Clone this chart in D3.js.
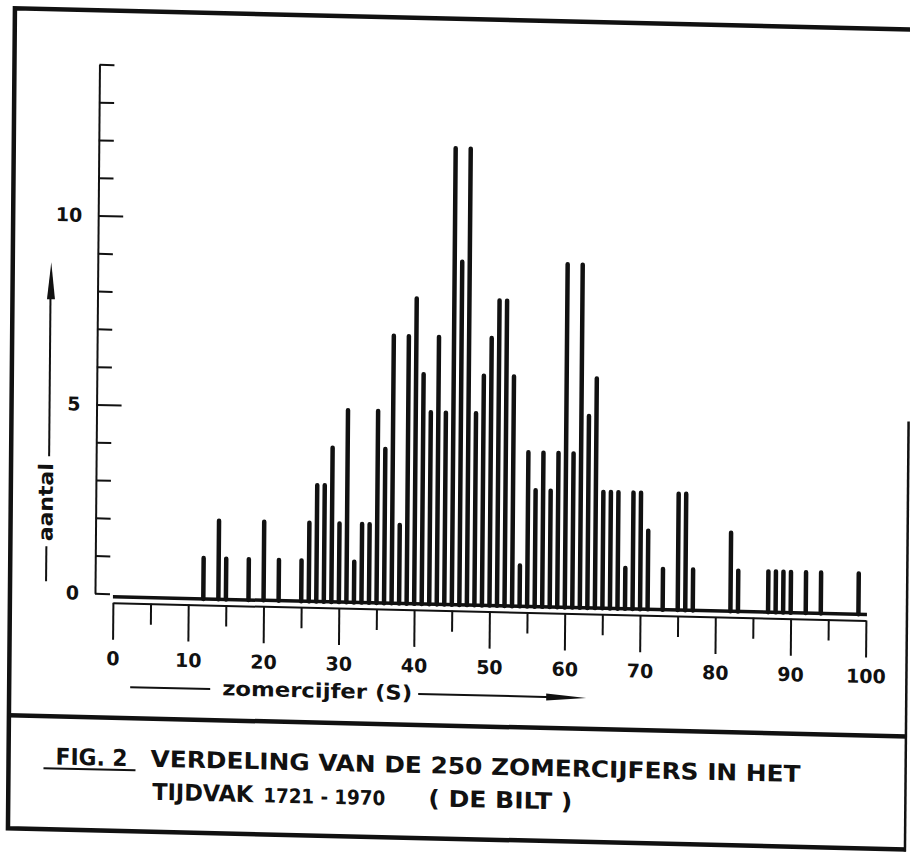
<!DOCTYPE html>
<html>
<head>
<meta charset="utf-8">
<script src="https://cdn.jsdelivr.net/npm/d3@7.9.0/dist/d3.min.js"></script>
<style>
  body { margin: 0; background: #fff; }
  svg text { font-family: 'DejaVu Sans', sans-serif; fill: #111; font-weight: bold; }
  svg .caption text { font-family: 'DejaVu Sans Condensed', 'DejaVu Sans', sans-serif; }
</style>
</head>
<body>
<svg id="chart" width="910" height="857"></svg>
<script>
// zomercijfer values that occur, and how many summers had each one
const zomercijfers = [12, 14, 15, 18, 20, 22, 25, 26, 27, 28, 29, 30, 31, 32, 33, 34, 35,
  36, 37, 38, 39, 40, 41, 42, 43, 44, 45, 46, 47, 48, 49, 50, 51, 52, 53, 54, 55, 56,
  57, 58, 59, 60, 61, 62, 63, 64, 65, 66, 67, 68, 69, 70, 71, 73, 75, 76, 77, 82, 83,
  87, 88, 89, 90, 92, 94, 99];
const aantallen = [1, 2, 1, 1, 2, 1, 1, 2, 3, 3, 4, 2, 5, 1, 2, 2, 5,
  4, 7, 2, 7, 8, 6, 5, 7, 5, 12, 9, 12, 5, 6, 7, 8, 8, 6, 1, 4, 3,
  4, 3, 4, 9, 4, 9, 5, 6, 3, 3, 3, 1, 3, 3, 2, 1, 3, 3, 1, 2, 1,
  1, 1, 1, 1, 1, 1, 1];

const xMajorTicks = [0, 10, 20, 30, 40, 50, 60, 70, 80, 90, 100];
const xMinorTicks = [5, 15, 25, 35, 45, 55, 65, 75, 85, 95];
const yTicks = d3.range(0, 15);
const yTickLabels = [0, 5, 10];

const xLabel = 'zomercijfer (S)';
const yLabel = 'aantal';
const captionFig = 'FIG. 2';
const captionLine1 = 'VERDELING VAN DE 250 ZOMERCIJFERS IN HET';
const captionLine2 = ['TIJDVAK', '1721 - 1970', '( DE BILT )'];

const svg = d3.select('#chart');
svg.append('rect').attr('width', 910).attr('height', 857).attr('fill', '#fff');

// the scan is slightly skewed, so draw everything straight and skew the lot
const page = svg.append('g').attr('transform', 'matrix(1, 0.0235, -0.0085, 1, 0, 0)');

const x = d3.scaleLinear().domain([0, 100]).range([118, 871]);
const y = d3.scaleLinear().domain([0, 14]).range([591, 62]);

// frame (right edge is faint at the top of the scan)
page.append('path')
  .attr('d', 'M913,8 H15 V828 H913')
  .attr('fill', 'none').attr('stroke', '#111').attr('stroke-width', 4.5);
page.append('line')
  .attr('x1', 912).attr('x2', 912).attr('y1', 400).attr('y2', 830)
  .attr('stroke', '#111').attr('stroke-width', 2.5);
page.append('line')
  .attr('x1', 15).attr('x2', 913).attr('y1', 715).attr('y2', 715)
  .attr('stroke', '#111').attr('stroke-width', 4.5);

// y axis: ticks to the right, labels to the left
const yAxis = page.append('g')
  .attr('class', 'axis')
  .attr('transform', `translate(100,0)`)
  .call(d3.axisRight(y).tickValues(yTicks).tickSizeOuter(0).tickFormat(''));
yAxis.selectAll('.tick line').attr('x2', (d) => (d % 5 === 0 && d > 0 ? 25 : 15));

const yLabels = page.append('g')
  .attr('transform', `translate(100,0)`)
  .call(d3.axisLeft(y).tickValues(yTickLabels).tickSize(0).tickPadding(16));
yLabels.select('.domain').remove();
yLabels.selectAll('text').style('font-size', '19px');

// x axis: tick line sits just under the bar baseline
const xAxisY = 600;
const xMajor = page.append('g')
  .attr('class', 'axis')
  .attr('transform', `translate(0,${xAxisY})`)
  .call(d3.axisBottom(x).tickValues(xMajorTicks).tickSize(37).tickSizeOuter(0).tickPadding(12));
xMajor.selectAll('text').style('font-size', '19px');
const xMinor = page.append('g')
  .attr('class', 'axis')
  .attr('transform', `translate(0,${xAxisY})`)
  .call(d3.axisBottom(x).tickValues(xMinorTicks).tickSize(21).tickSizeOuter(0).tickFormat(''));
xMinor.select('.domain').remove();
page.selectAll('.axis path, .axis line').attr('stroke', '#111').attr('stroke-width', 2);

// baseline the bars stand on
page.append('line')
  .attr('x1', x(0)).attr('x2', x(100) + 1)
  .attr('y1', y(0) + 3).attr('y2', y(0) + 3)
  .attr('stroke', '#111').attr('stroke-width', 3.5);

// bars
page.append('g')
  .selectAll('line')
  .data(zomercijfers)
  .join('line')
  .attr('x1', (d) => x(d))
  .attr('x2', (d) => x(d))
  .attr('y1', y(0) + 3)
  .attr('y2', (d, i) => y(aantallen[i]))
  .attr('stroke', '#111')
  .attr('stroke-width', 4.5)
  .attr('stroke-linecap', 'round');

// x label with arrow
page.append('line')
  .attr('x1', 136).attr('x2', 216).attr('y1', 684).attr('y2', 684)
  .attr('stroke', '#111').attr('stroke-width', 2);
page.append('text')
  .attr('x', 228).attr('y', 690)
  .attr('textLength', 190).attr('lengthAdjust', 'spacingAndGlyphs')
  .style('font-size', '20px')
  .text(xLabel);
page.append('line')
  .attr('x1', 424).attr('x2', 560).attr('y1', 684).attr('y2', 684)
  .attr('stroke', '#111').attr('stroke-width', 2);
page.append('path')
  .attr('d', 'M552,680.5 L592,684 L552,687.5 Z')
  .attr('fill', '#111');

// y label with arrow
page.append('text')
  .attr('transform', 'translate(57,501) rotate(-90)')
  .attr('text-anchor', 'middle')
  .attr('textLength', 78).attr('lengthAdjust', 'spacingAndGlyphs')
  .style('font-size', '20px')
  .text(yLabel);
page.append('line')
  .attr('x1', 51).attr('x2', 51).attr('y1', 545).attr('y2', 580)
  .attr('stroke', '#111').attr('stroke-width', 2);
page.append('line')
  .attr('x1', 53).attr('x2', 53).attr('y1', 455).attr('y2', 290)
  .attr('stroke', '#111').attr('stroke-width', 2);
page.append('path')
  .attr('d', 'M49.5,298 L53.5,261 L57.5,298 Z')
  .attr('fill', '#111');

// caption
const cap = page.append('g').attr('class', 'caption').style('font-size', '23px');
cap.append('text').attr('x', 62).attr('y', 763)
  .attr('textLength', 72).attr('lengthAdjust', 'spacingAndGlyphs').text(captionFig);
cap.append('line')
  .attr('x1', 50).attr('x2', 142).attr('y1', 767).attr('y2', 767)
  .attr('stroke', '#111').attr('stroke-width', 2);
cap.append('text').attr('x', 157).attr('y', 763)
  .attr('textLength', 650).attr('lengthAdjust', 'spacingAndGlyphs').text(captionLine1);
const line2x = [159, 270, 435];
const line2w = [101, 122, 144];
captionLine2.forEach((t, i) => {
  cap.append('text').attr('x', line2x[i]).attr('y', 796)
    .attr('textLength', line2w[i]).attr('lengthAdjust', 'spacingAndGlyphs')
    .style('font-size', i === 1 ? '20px' : '23px')
    .text(t);
});
</script>
</body>
</html>
